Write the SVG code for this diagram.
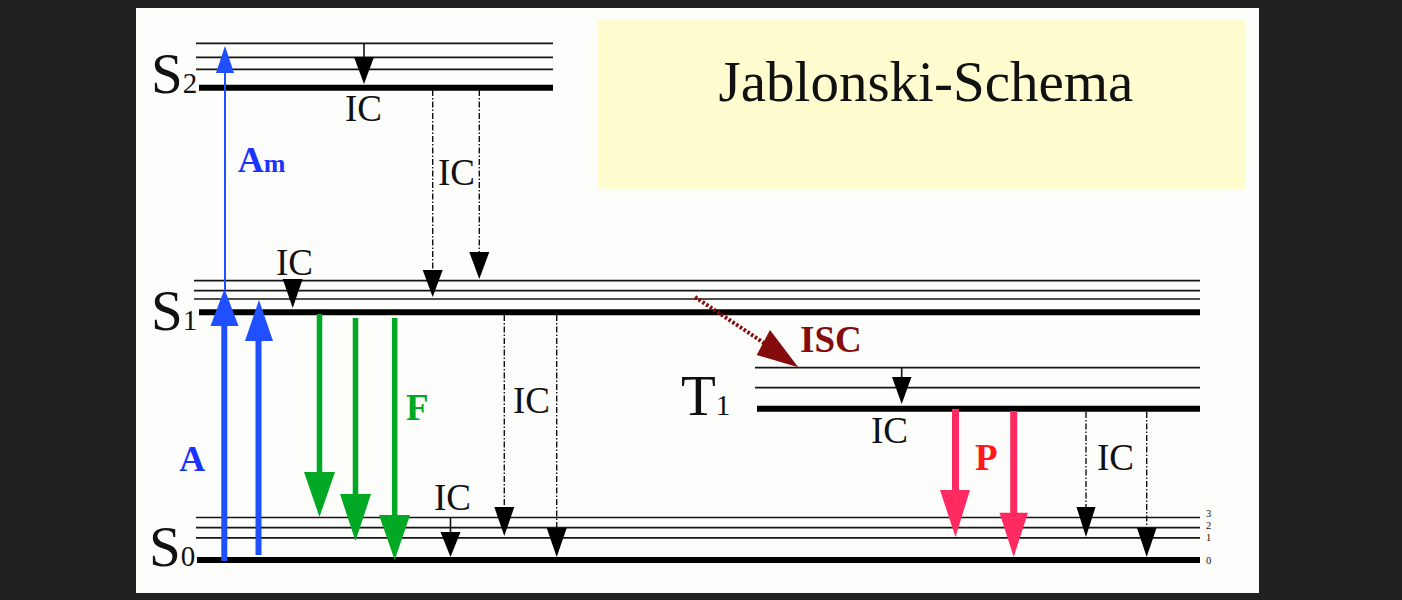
<svg xmlns="http://www.w3.org/2000/svg" width="1402" height="600" viewBox="0 0 1402 600">
<style>
.lvl{stroke:#151515;stroke-width:1.7;fill:none}
.lvlb{stroke:#000;stroke-width:6;fill:none}
.lab{font-family:"Liberation Serif","Times New Roman",serif;fill:#111}
.ic{font-family:"Liberation Serif","Times New Roman",serif;font-size:37px;fill:#111}
.bl{font-family:"Liberation Serif","Times New Roman",serif;font-weight:bold}
.dash{stroke:#111;stroke-width:1.4;stroke-dasharray:6 2 1.5 2;fill:none}
.sol{stroke:#111;stroke-width:1.6;fill:none}
.hk{fill:#000}
.blue{stroke:#1f4fff;fill:none}
.hb{fill:#1f4fff}
.green{stroke:#00a823;stroke-width:5.5;fill:none}
.hg{fill:#00a823}
.pink{stroke:#ff2a62;stroke-width:7;fill:none}
.hp{fill:#ff2a62}
.isc{stroke:#840c0c;stroke-width:4;stroke-dasharray:2.5 2;fill:none}
.hr{fill:#840c0c}
</style>
<rect x="0" y="0" width="1402" height="600" fill="#212121"/>
<rect x="136" y="8" width="1123" height="585" fill="#fdfdfb"/>

<g id="title">
<rect x="597" y="20" width="648" height="169" fill="#fffdd0"/>
<text class="lab" x="926" y="101" font-size="57" text-anchor="middle">Jablonski-Schema</text>
</g>

<g id="S2">
<line class="lvl" x1="196" y1="43.3" x2="553" y2="43.3"/>
<line class="lvl" x1="196" y1="57.3" x2="553" y2="57.3"/>
<line class="lvl" x1="196" y1="69.3" x2="553" y2="69.3"/>
<line class="lvlb" x1="199" y1="87.7" x2="553" y2="87.7"/>
<text class="lab" x="151" y="93" font-size="57">S<tspan font-size="29">2</tspan></text>
</g>

<g id="S1">
<line class="lvl" x1="194" y1="280.7" x2="1200" y2="280.7"/>
<line class="lvl" x1="194" y1="290.7" x2="1200" y2="290.7"/>
<line class="lvl" x1="194" y1="299" x2="1200" y2="299"/>
<line class="lvlb" x1="199" y1="312.3" x2="1200" y2="312.3"/>
<text class="lab" x="151" y="330" font-size="57">S<tspan font-size="29">1</tspan></text>
</g>

<g id="T1">
<line class="lvl" x1="755" y1="367.7" x2="1200" y2="367.7"/>
<line class="lvl" x1="755" y1="387.7" x2="1200" y2="387.7"/>
<line class="lvlb" x1="757" y1="408.7" x2="1200" y2="408.7"/>
<text class="lab" x="681" y="415" font-size="57">T<tspan font-size="29">1</tspan></text>
</g>

<g id="S0">
<line class="lvl" x1="196" y1="517.5" x2="1200" y2="517.5"/>
<line class="lvl" x1="196" y1="527.7" x2="1200" y2="527.7"/>
<line class="lvl" x1="196" y1="537.8" x2="1200" y2="537.8"/>
<line class="lvlb" x1="197" y1="560" x2="1200" y2="560"/>
<text class="lab" x="149" y="566" font-size="57">S<tspan font-size="29">0</tspan></text>
<text class="lab" x="1206" y="517" font-size="10.5">3</text>
<text class="lab" x="1206" y="529" font-size="10.5">2</text>
<text class="lab" x="1206" y="541" font-size="10.5">1</text>
<text class="lab" x="1206" y="564" font-size="10.5">0</text>
</g>

<g id="connectors">
<line class="blue" stroke-width="2" x1="225" y1="290" x2="225" y2="72"/>
<polygon class="hb" points="216,73 234,73 225,46"/>
<line class="blue" stroke-width="6" x1="224.3" y1="561" x2="224.3" y2="324"/>
<polygon class="hb" points="210.5,326 238.5,326 224.5,289"/>
<line class="blue" stroke-width="6" x1="258.5" y1="555" x2="258.5" y2="338"/>
<polygon class="hb" points="245,341 273,341 259,300"/>
<line class="green" x1="319.5" y1="314" x2="319.5" y2="476"/>
<polygon class="hg" points="304,472 335,472 319.5,517"/>
<line class="green" x1="355.5" y1="318" x2="355.5" y2="498"/>
<polygon class="hg" points="340,494 371,494 355.5,541"/>
<line class="green" x1="394.7" y1="318" x2="394.7" y2="519"/>
<polygon class="hg" points="379,515 410,515 394.7,560"/>
<line class="pink" x1="955.5" y1="409" x2="955.5" y2="493"/>
<polygon class="hp" points="940,490 970,490 955.5,537"/>
<line class="pink" x1="1013.7" y1="411" x2="1013.7" y2="516"/>
<polygon class="hp" points="999.5,512.7 1028,512.7 1013.7,557"/>
<line class="sol" x1="364" y1="43" x2="364" y2="58"/>
<polygon class="hk" points="354,57 374,57 364,84"/>
<line class="dash" x1="432.7" y1="90" x2="432.7" y2="271"/>
<polygon class="hk" points="422.7,270 442.7,270 432.7,297"/>
<line class="dash" x1="479.3" y1="90" x2="479.3" y2="253"/>
<polygon class="hk" points="469.3,252 489.3,252 479.3,279"/>
<polygon class="hk" points="282.7,279 302.7,279 292.7,308"/>
<line class="dash" x1="504.3" y1="315" x2="504.3" y2="508"/>
<polygon class="hk" points="494.3,507 514.3,507 504.3,536"/>
<line class="dash" x1="556.7" y1="315" x2="556.7" y2="529"/>
<polygon class="hk" points="546.7,528 566.7,528 556.7,557"/>
<line class="sol" x1="450.5" y1="517" x2="450.5" y2="533"/>
<polygon class="hk" points="440.5,532 460.5,532 450.5,557"/>
<line class="sol" x1="901.7" y1="368" x2="901.7" y2="378"/>
<polygon class="hk" points="892,377 911.5,377 901.7,404"/>
<line class="dash" x1="1086" y1="412" x2="1086" y2="508"/>
<polygon class="hk" points="1076.5,507 1095.5,507 1086,537"/>
<line class="dash" x1="1146.7" y1="412" x2="1146.7" y2="529"/>
<polygon class="hk" points="1137,528 1156.5,528 1146.7,557"/>
<line class="isc" x1="695" y1="297" x2="764" y2="343"/>
<polygon class="hr" points="770,330 756.7,355 798.3,367.3"/>
</g>

<g id="labels">
<text class="bl" x="237.7" y="171.5" font-size="36" fill="#1a33ff">A<tspan font-size="26">m</tspan></text>
<text class="bl" x="179.3" y="470.7" font-size="36" fill="#1a33ff">A</text>
<text class="bl" x="406" y="420" font-size="37" fill="#00a823">F</text>
<text class="bl" x="800" y="351.7" font-size="37" fill="#840c0c">ISC</text>
<text class="bl" x="975" y="470" font-size="37" fill="#ff1a1a">P</text>
<text class="ic" x="345" y="121">IC</text>
<text class="ic" x="438" y="185">IC</text>
<text class="ic" x="276" y="275">IC</text>
<text class="ic" x="513" y="413">IC</text>
<text class="ic" x="434" y="510">IC</text>
<text class="ic" x="871" y="443">IC</text>
<text class="ic" x="1097" y="470">IC</text>
</g>
</svg>
